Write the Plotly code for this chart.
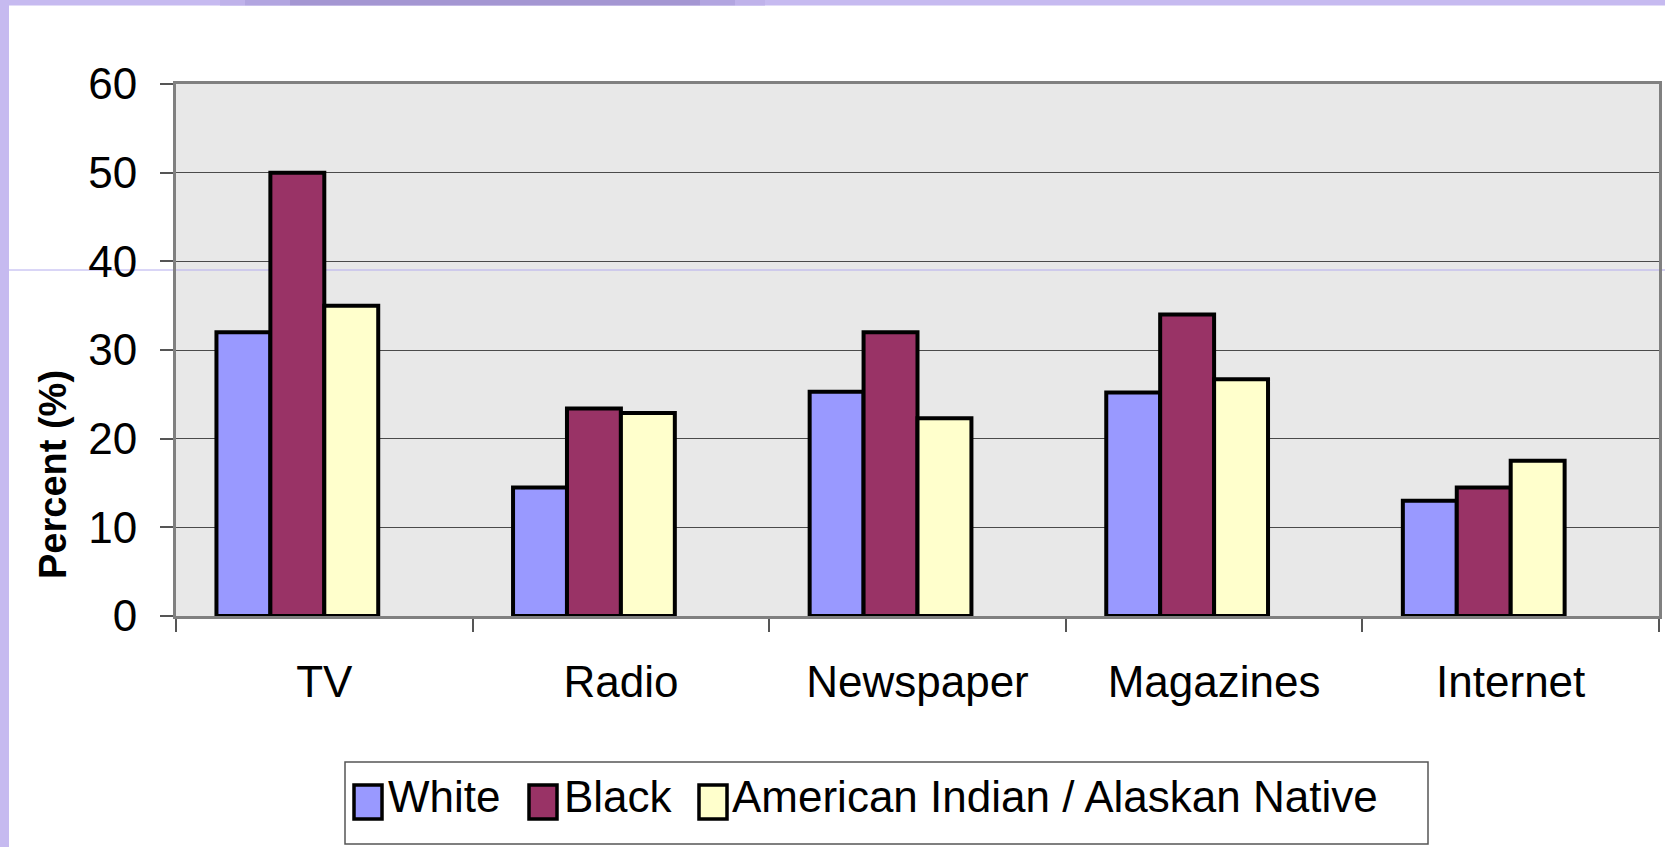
import plotly.graph_objects as go

# Media use by group (percent)
categories = ["TV", "Radio", "Newspaper", "Magazines", "Internet"]
series_names = ["White", "Black", "American Indian / Alaskan Native"]
white = [32, 14.5, 25.3, 25.2, 13]
black = [50, 23.4, 32, 34, 14.5]
amer_indian = [35, 22.9, 22.3, 26.7, 17.5]
y_ticks = [0, 10, 20, 30, 40, 50, 60]

colors = ["#9999FF", "#993366", "#FFFFCC"]
FONT = "Arial, Liberation Sans, sans-serif"

W, H = 1665, 847
L, R, T, B = 176, 6, 84, 231
PW, PH = W - L - R, H - T - B


def px(x):
    """Pixel x -> paper x."""
    return (x - L) / PW


def py(y):
    """Pixel y (from top) -> paper y."""
    return (H - B - y) / PH


fig = go.Figure()

# four slots per category (150% gap), three series drawn
slot = 1 / 5.5
for i, (name, vals, col) in enumerate(zip(series_names, [white, black, amer_indian], colors)):
    fig.add_trace(go.Bar(
        x=categories, y=vals, name=name,
        width=slot, offset=-2 * slot + i * slot,
        marker=dict(color=col, line=dict(color="#000000", width=4)),
        showlegend=False,
    ))

shapes = []
# slide frame: left strip and top band
shapes.append(dict(type="rect", xref="paper", yref="paper",
                   x0=px(0), x1=px(9), y0=py(H), y1=py(0),
                   fillcolor="#C6BAF0", line=dict(width=0), layer="below"))
shapes.append(dict(type="rect", xref="paper", yref="paper",
                   x0=px(0), x1=px(W), y0=py(5.5), y1=py(0),
                   fillcolor="#C6BAF0", line=dict(width=0), layer="below"))
band = [(220, 245, "#BFB2EA"), (245, 290, "#B2A5E0"), (290, 700, "#A496D2"),
        (700, 735, "#B2A5E0"), (735, 765, "#BFB2EA")]
for x0, x1, c in band:
    shapes.append(dict(type="rect", xref="paper", yref="paper",
                       x0=px(x0), x1=px(x1), y0=py(5.5), y1=py(0),
                       fillcolor=c, line=dict(width=0), layer="below"))
# thin guide line across the slide
shapes.append(dict(type="line", xref="paper", yref="paper",
                   x0=px(9), x1=px(W), y0=py(270), y1=py(270),
                   line=dict(color="#B4ACEE", width=1), layer="below"))

# legend box
shapes.append(dict(type="rect", xref="paper", yref="paper",
                   x0=px(345), x1=px(1428), y0=py(844), y1=py(762),
                   fillcolor="#FFFFFF", line=dict(color="#555555", width=1.5)))
annotations = []
swatch_x = [354, 529, 699]
text_x = [386, 562, 730]
for sx, tx, name, col in zip(swatch_x, text_x, series_names, colors):
    shapes.append(dict(type="rect", xref="paper", yref="paper",
                       x0=px(sx), x1=px(sx + 28), y0=py(819), y1=py(785),
                       fillcolor=col, line=dict(color="#000000", width=3.5)))
    annotations.append(dict(xref="paper", yref="paper", x=px(tx), y=py(796),
                            text=name, showarrow=False, xanchor="left", yanchor="middle",
                            font=dict(family=FONT, size=44, color="#000000")))

# y-axis title
annotations.append(dict(xref="paper", yref="paper", x=px(53), y=py(475),
                        text="<b>Percent (%)</b>", textangle=-90, showarrow=False,
                        xanchor="center", yanchor="middle",
                        font=dict(family=FONT, size=38, color="#000000")))

fig.update_layout(
    width=W, height=H,
    margin=dict(l=L, r=R, t=T, b=B, autoexpand=False),
    paper_bgcolor="#FFFFFF",
    plot_bgcolor="#E8E8E8",
    barmode="overlay",
    font=dict(family=FONT, size=44, color="#000000"),
    shapes=shapes,
    annotations=annotations,
    showlegend=False,
)
fig.update_xaxes(
    type="category", range=[-0.5, 4.5],
    showgrid=False, ticks="outside", tickson="boundaries",
    ticklen=13, tickwidth=1.5, tickcolor="#555555",
    showline=True, linecolor="#808080", linewidth=3, mirror=True,
    ticklabelstandoff=25,
    tickfont=dict(family=FONT, size=44, color="#000000"),
)
fig.update_yaxes(
    range=[0, 60], tickvals=y_ticks, ticktext=[str(v) for v in y_ticks],
    showgrid=True, gridcolor="#4a4a4a", gridwidth=1.2, zeroline=False,
    ticks="outside", ticklen=13, tickwidth=1.5, tickcolor="#555555",
    showline=True, linecolor="#808080", linewidth=3, mirror=True,
    ticklabelstandoff=14,
    tickfont=dict(family=FONT, size=44, color="#000000"),
)

fig.write_html("out.html")
